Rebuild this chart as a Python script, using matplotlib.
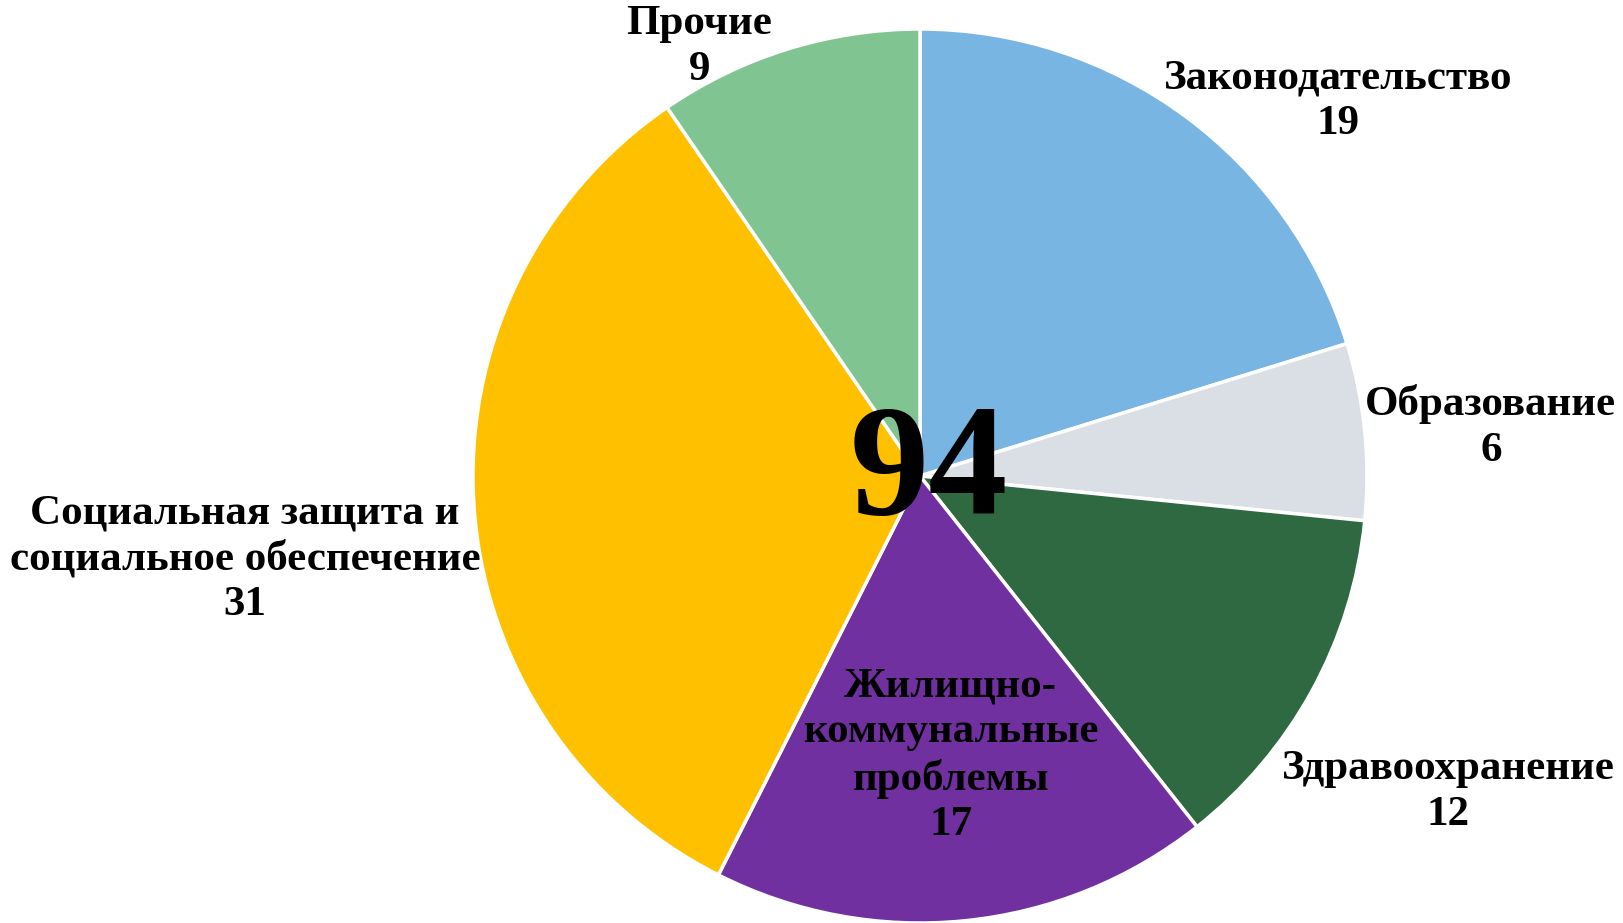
import matplotlib.pyplot as plt

# данные
labels = ['Законодательство', 'Образование', 'Здравоохранение',
          'Жилищно-\nкоммунальные\nпроблемы',
          'Социальная защита и\nсоциальное обеспечение', 'Прочие']
values = [19, 6, 12, 17, 31, 9]
colors = ['#78B5E3', '#D9DFE4', '#2E6941', '#7030A0', '#FFC000', '#80C491']
# label centres, in pie radii from the centre
label_pos = [(0.935, 0.839), (1.277, 0.110), (1.181, -0.707),
             (0.069, -0.626), (-1.510, -0.186), (-0.494, 0.960)]

plt.rcParams['font.family'] = ['Liberation Serif', 'DejaVu Serif']

fig = plt.figure(figsize=(16.24, 9.23), dpi=100)
ax = fig.add_axes([0, 0, 1, 1])
ax.pie(values, colors=colors, startangle=90, counterclock=False,
       wedgeprops=dict(edgecolor='white', linewidth=2.5))
ax.set_xlim(-920 / 447, 704 / 447)
ax.set_ylim(-447 / 447, 476 / 447)
ax.set_aspect('auto')
ax.axis('off')

for lab, v, (x, y) in zip(labels, values, label_pos):
    ax.text(x, y, f'{lab}\n{v}', ha='center', va='center', fontsize=31,
            fontweight='bold', linespacing=1.26, color='black')

ax.text(0.02, 0.0, str(sum(values)), ha='center', va='center',
        fontsize=114, fontweight='bold', color='black')

fig.savefig('out.png', dpi=100)
